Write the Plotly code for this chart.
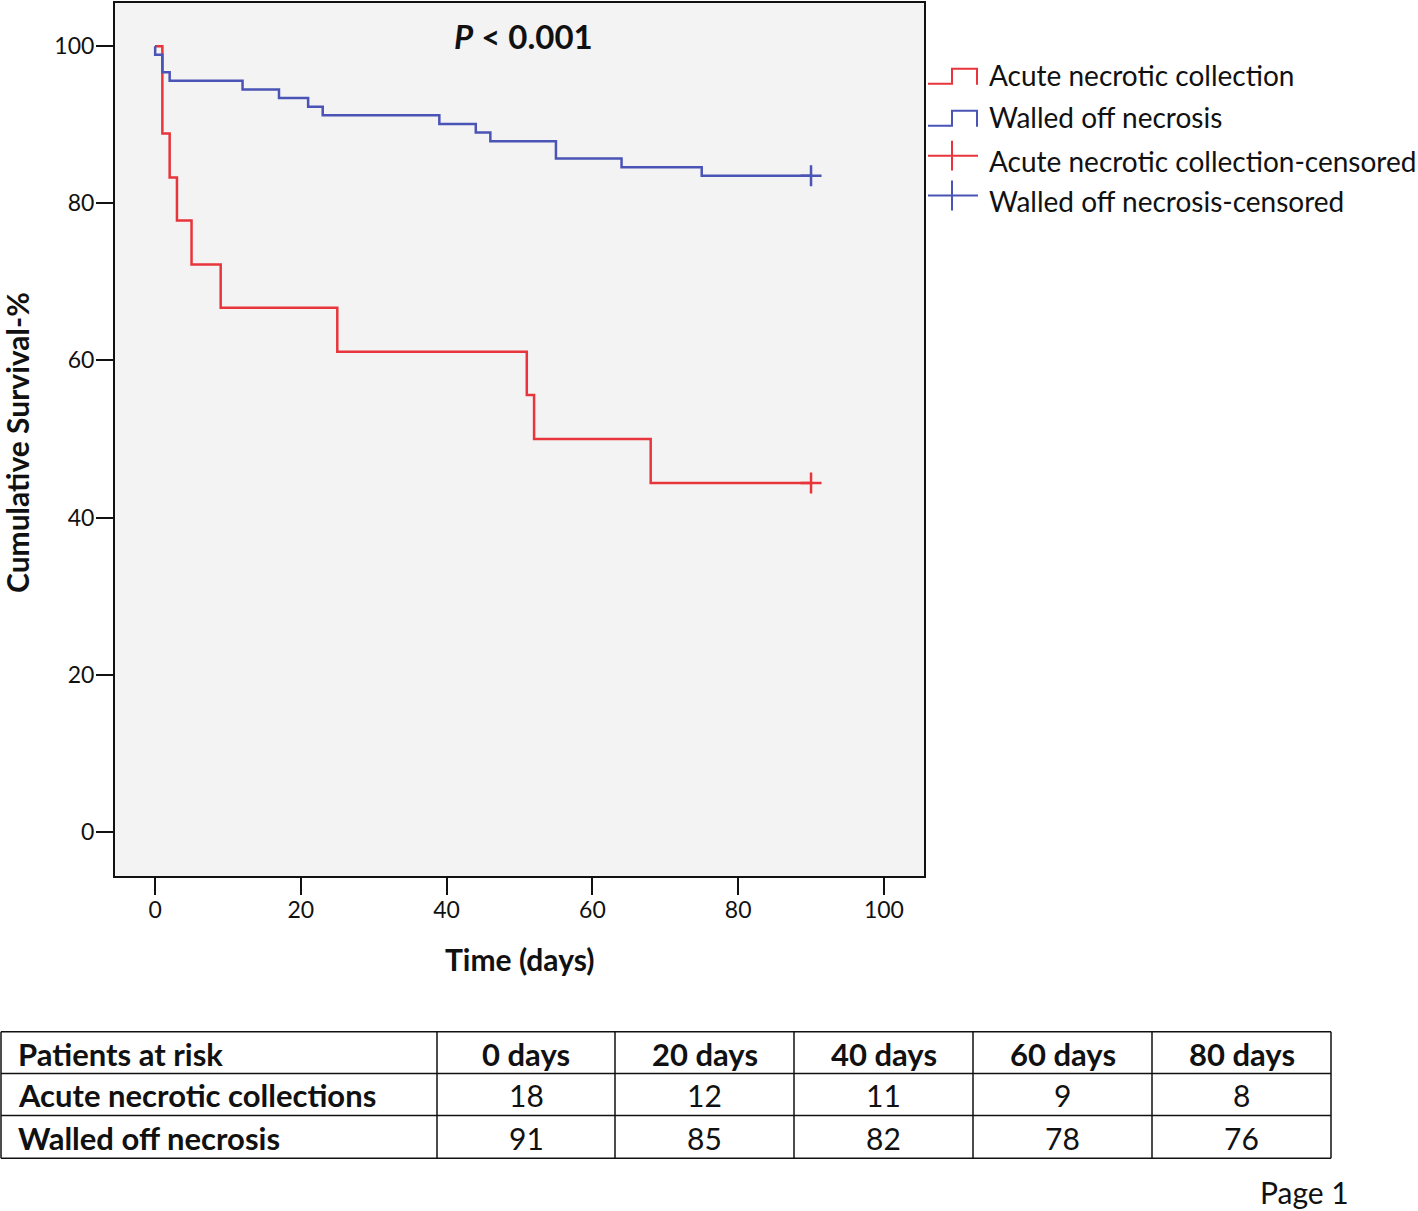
import plotly.graph_objects as go

# ---------------- data ----------------
anc_time = [0, 1, 2, 3, 5, 9, 25, 51, 52, 68, 90]
anc_surv = [100, 88.9, 83.3, 77.8, 72.2, 66.7, 61.1, 55.6, 50.0, 44.4, 44.4]
anc_censor_time = [90]
anc_censor_surv = [44.4]

won_time = [0, 0.01, 1, 2, 12, 17, 21, 23, 39, 44, 46, 55, 64, 75, 90]
won_surv = [100, 98.9, 96.7, 95.6, 94.5, 93.4, 92.3, 91.2, 90.1, 89.0, 87.9, 85.7, 84.6, 83.5, 83.5]
won_censor_time = [90]
won_censor_surv = [83.5]

x_ticks = [0, 20, 40, 60, 80, 100]
y_ticks = [0, 20, 40, 60, 80, 100]

legend_labels = ["Acute necrotic collection", "Walled off necrosis",
                 "Acute necrotic collection-censored", "Walled off necrosis-censored"]

table_header = ["Patients at risk", "0 days", "20 days", "40 days", "60 days", "80 days"]
table_rows = ["Acute necrotic collections", "Walled off necrosis"]
risk_anc = [18, 12, 11, 9, 8]
risk_won = [91, 85, 82, 78, 76]

RED = "#e8353b"
BLUE = "#4a54b6"
FONT = "Lato"

# ---------------- layout geometry (pixels) ----------------
W, H = 1418, 1211
PL, PR, PT, PB = 115, 924, 1, 876   # plot area edges


def px(x):
    return (x - PL) / (PR - PL)


def py(y):
    return (PB - y) / (PB - PT)


fig = go.Figure()

fig.add_trace(go.Scatter(x=anc_time, y=anc_surv, mode="lines", line=dict(shape="hv", color=RED, width=2.5),
                         name=legend_labels[0], showlegend=False, hoverinfo="skip"))
fig.add_trace(go.Scatter(x=won_time, y=won_surv, mode="lines", line=dict(shape="hv", color=BLUE, width=2.5),
                         name=legend_labels[1], showlegend=False, hoverinfo="skip"))
fig.add_trace(go.Scatter(x=anc_censor_time, y=anc_censor_surv, mode="markers",
                         marker=dict(symbol="cross-thin", size=15, line=dict(color=RED, width=2.5)),
                         name=legend_labels[2], showlegend=False, hoverinfo="skip"))
fig.add_trace(go.Scatter(x=won_censor_time, y=won_censor_surv, mode="markers",
                         marker=dict(symbol="cross-thin", size=15, line=dict(color=BLUE, width=2.5)),
                         name=legend_labels[3], showlegend=False, hoverinfo="skip"))

shapes = []
annotations = []

# P value
annotations.append(dict(x=px(523), y=py(34), xref="paper", yref="paper", showarrow=False,
                        text="<b><i>P</i> < 0.001</b>", font=dict(family=FONT, size=33, color="#111"),
                        xanchor="center", yanchor="middle"))
# axis titles
annotations.append(dict(x=px(519), y=py(959), xref="paper", yref="paper", showarrow=False,
                        text="<b>Time (days)</b>", font=dict(family=FONT, size=30, color="#111"),
                        xanchor="center", yanchor="middle"))
annotations.append(dict(x=px(17), y=py(442), xref="paper", yref="paper", showarrow=False,
                        text="<b>Cumulative Survival-%</b>", textangle=-90,
                        font=dict(family=FONT, size=30, color="#111"),
                        xanchor="center", yanchor="middle"))

# custom legend
leg_y = [73, 115, 159, 199]
leg_col = [RED, BLUE, RED, BLUE]
for i, (lab, ly, c) in enumerate(zip(legend_labels, leg_y, leg_col)):
    if i < 2:
        path = "M {},{} L {},{} L {},{} L {},{} L {},{}".format(
            px(928), py(ly + 9), px(952), py(ly + 9), px(952), py(ly - 6), px(977), py(ly - 6), px(977), py(ly + 10))
        shapes.append(dict(type="path", path=path, xref="paper", yref="paper",
                           line=dict(color=c, width=2)))
    else:
        shapes.append(dict(type="line", xref="paper", yref="paper", x0=px(928), x1=px(978),
                           y0=py(ly - 5), y1=py(ly - 5), line=dict(color=c, width=2)))
        shapes.append(dict(type="line", xref="paper", yref="paper", x0=px(952), x1=px(952),
                           y0=py(ly - 20), y1=py(ly + 10), line=dict(color=c, width=2)))
    annotations.append(dict(x=px(987), y=py(ly), xref="paper", yref="paper", showarrow=False,
                            text=lab, font=dict(family=FONT, size=28, color="#111"),
                            xanchor="left", yanchor="middle"))

# risk table
col_x = [1, 437, 615, 794, 973, 1152, 1331]
row_y = [1032, 1074, 1116, 1159]
for yv in row_y:
    shapes.append(dict(type="line", xref="paper", yref="paper", x0=px(col_x[0]), x1=px(col_x[-1]),
                       y0=py(yv), y1=py(yv), line=dict(color="#111", width=1.5)))
for xv in col_x:
    shapes.append(dict(type="line", xref="paper", yref="paper", x0=px(xv), x1=px(xv),
                       y0=py(row_y[0]), y1=py(row_y[-1]), line=dict(color="#111", width=1.5)))

row_centers = [(row_y[i] + row_y[i + 1]) / 2 + 1 for i in range(3)]
table_data = [table_header,
              [table_rows[0]] + [str(v) for v in risk_anc],
              [table_rows[1]] + [str(v) for v in risk_won]]
for r, row in enumerate(table_data):
    for c, val in enumerate(row):
        bold = (r == 0) or (c == 0)
        txt = "<b>{}</b>".format(val) if bold else val
        if c == 0:
            xx, anchor = px(16), "left"
        else:
            xx, anchor = px((col_x[c] + col_x[c + 1]) / 2), "center"
        annotations.append(dict(x=xx, y=py(row_centers[r]), xref="paper", yref="paper", showarrow=False,
                                text=txt, font=dict(family=FONT, size=31 if bold else 30, color="#111"),
                                xanchor=anchor, yanchor="middle"))

annotations.append(dict(x=px(1351), y=py(1193), xref="paper", yref="paper", showarrow=False,
                        text="Page 1", font=dict(family=FONT, size=30, color="#111"),
                        xanchor="right", yanchor="middle"))

fig.update_layout(
    width=W, height=H,
    margin=dict(l=PL, r=W - PR, t=PT, b=H - PB, pad=0),
    paper_bgcolor="white", plot_bgcolor="#f3f3f3",
    shapes=shapes, annotations=annotations, showlegend=False,
    font=dict(family=FONT, color="#111"),
)
fig.update_xaxes(range=[-5.5, 105.5], tickvals=x_ticks, ticks="outside", ticklen=17, tickwidth=2,
                 tickcolor="#111", showgrid=False, zeroline=False, showline=True, linecolor="#111",
                 linewidth=2, mirror=True, ticklabelstandoff=-5,
                 tickfont=dict(family=FONT, size=23, color="#111"))
fig.update_yaxes(range=[-5.63, 105.5], tickvals=y_ticks, ticks="outside", ticklen=17, tickwidth=2,
                 tickcolor="#111", showgrid=False, zeroline=False, showline=True, linecolor="#111",
                 linewidth=2, mirror=True, ticklabelstandoff=-3,
                 tickfont=dict(family=FONT, size=23, color="#111"))

fig.write_html("out.html", config={"displayModeBar": False},
               post_script="document.body.style.margin='0';document.body.style.padding='0';")
